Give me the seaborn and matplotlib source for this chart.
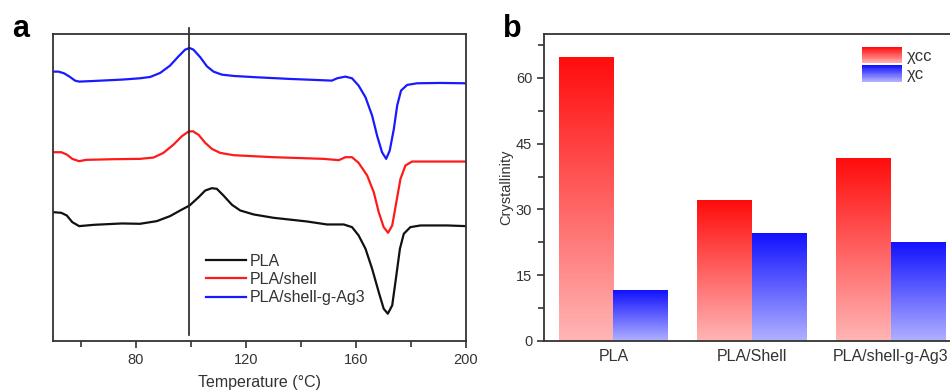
import matplotlib
matplotlib.use("Agg")
import matplotlib.pyplot as plt
import numpy as np
import pandas as pd
import seaborn as sns
from matplotlib.legend_handler import HandlerBase
from matplotlib.patches import Rectangle, Patch
from matplotlib.ticker import MultipleLocator

# ---- panel a: DSC curves (heat flow, arbitrary units, offset) ----
temp_pla = [50, 53, 55, 57, 59.5, 65, 75, 81.6, 87.7, 92.5, 96.2, 99.6, 102.9, 105.3, 107.7,
            109.5, 111.9, 115, 118, 122.9, 130.1, 142.2, 149.5, 155.6, 158.6, 161, 163.5,
            165.9, 168.3, 170.1, 171.6, 173.2, 174.7, 176, 177.4, 179.8, 183.5, 193.2, 200]
hf_pla = [387, 385, 377, 357, 345, 349, 353, 352, 360, 375, 392, 407, 432, 452, 459,
          457, 437, 409, 392, 380, 370, 359, 350, 350, 342, 317, 277,
          217, 147, 97, 82, 107, 197, 277, 322, 342, 347, 347, 345]

temp_shell = [50, 53, 55, 57, 59.5, 62, 72, 81.6, 86.5, 90.1, 93.8, 96.8, 99.2, 100.8, 102.9,
              105.3, 107.7, 110.7, 115.6, 130.1, 148.3, 153.8, 156.2, 158.6, 161, 164.1,
              166.5, 168.3, 170.1, 171.7, 173.2, 174.7, 176.2, 178, 180.4, 187.1, 200]
hf_shell = [567, 567, 560, 547, 540, 544, 546, 547, 551, 565, 590, 615, 629, 630, 619,
            595, 577, 565, 558, 552, 547, 543, 552, 552, 535, 497,
            447, 387, 342, 325, 347, 417, 487, 527, 539, 539, 539]

temp_ag3 = [50, 52, 54, 56, 58, 59.5, 65, 75, 81.6, 85.3, 88.9, 92.5, 95.6, 98, 99.6, 101,
            103.5, 105.9, 108.3, 111.3, 115.6, 124, 136.2, 148.3, 151.3, 153.2, 156.2, 158.6,
            161, 163.5, 165.9, 167.7, 169.5, 171, 172.3, 173.8, 175, 176.4, 178.6, 182.2,
            190.7, 200]
hf_ag3 = [809, 809, 804, 794, 782, 779, 781, 785, 789, 793, 805, 827, 855, 875, 880, 875,
          852, 825, 809, 800, 796, 792, 787, 783, 782, 789, 794, 789,
          767, 732, 677, 617, 567, 547, 572, 637, 707, 752, 769, 774,
          775, 774]

curve_labels = ["PLA", "PLA/shell", "PLA/shell-g-Ag3"]
curve_colors = ["#111111", "#ff1a1a", "#1a1aff"]
t_cc_line = 99.5

# ---- panel b: crystallinity ----
samples = ["PLA", "PLA/Shell", "PLA/shell-g-Ag3"]
chi_cc = [64.7, 32.1, 41.5]
chi_c = [11.6, 24.4, 22.4]

plt.rcParams["font.family"] = ["Liberation Sans", "DejaVu Sans"]
plt.rcParams["axes.linewidth"] = 1.3
plt.rcParams["axes.edgecolor"] = "#333333"

fig = plt.figure(figsize=(9.5, 3.9), dpi=100)
ax1 = fig.add_axes([53 / 950, 49 / 390, 413 / 950, 307 / 390])
ax2 = fig.add_axes([544 / 950, 49 / 390, 416 / 950, 307 / 390])

# Draw the DSC curves
for t, hf, lab, col in zip([temp_pla, temp_shell, temp_ag3], [hf_pla, hf_shell, hf_ag3],
                           curve_labels, curve_colors):
    sns.lineplot(x=t, y=hf, color=col, lw=1.6, label=lab, sort=False, ax=ax1,
                 solid_joinstyle="round")

ax1.axvline(t_cc_line, ymin=0.018, ymax=1.021, color="#222222", lw=1.2, clip_on=False)
ax1.set_xlim(50, 200)
ax1.set_ylim(0, 922)
ax1.set_yticks([])
ax1.xaxis.set_minor_locator(MultipleLocator(20))
ax1.set_xticks([80, 120, 160, 200])
ax1.tick_params(axis="x", which="major", length=5, width=1.2, labelsize=10.5, colors="#333333")
ax1.tick_params(axis="x", which="minor", length=4, width=1.2, colors="#333333")
ax1.set_xlabel("Temperature (°C)", fontsize=11.5, color="#333333", labelpad=6)
ax1.set_ylabel("")
ax1.legend(loc="upper left", bbox_to_anchor=(0.352, 0.31), frameon=False, borderpad=0,
           handlelength=2.5, handletextpad=0.2, labelspacing=0.2, fontsize=11.5,
           labelcolor="#333333")

# Draw the bars
df = pd.DataFrame({
    "sample": samples * 2,
    "kind": ["χcc"] * 3 + ["χc"] * 3,
    "value": chi_cc + chi_c,
})
sns.barplot(df, x="sample", y="value", hue="kind", hue_order=["χcc", "χc"],
            palette={"χcc": "red", "χc": "blue"}, width=0.79, linewidth=0,
            legend=False, ax=ax2)

grad = {
    "red": ((1.0, 0.71, 0.71), (1.0, 0.05, 0.05)),
    "blue": ((0.69, 0.69, 1.0), (0.07, 0.07, 1.0)),
}


def ramp(key, n=100):
    lo, hi = np.array(grad[key][0]), np.array(grad[key][1])
    f = np.linspace(0, 1, n)[:, None]
    return (lo + (hi - lo) * f)[:, None, :]


for p in list(ax2.patches):
    key = "red" if p.get_facecolor()[0] > 0.5 else "blue"
    x0, y0 = p.get_x(), p.get_y()
    w, h = p.get_width(), p.get_height()
    ax2.imshow(ramp(key), extent=[x0, x0 + w, y0, y0 + h], origin="lower",
               aspect="auto", zorder=2, interpolation="bilinear")
    p.set_visible(False)

ax2.set_xlim(-0.5, 2.5)
ax2.set_ylim(0, 70)
ax2.yaxis.set_major_locator(MultipleLocator(15))
ax2.yaxis.set_minor_locator(MultipleLocator(7.5))
ax2.tick_params(axis="y", which="major", length=5, width=1.2, labelsize=10.5, colors="#333333")
ax2.tick_params(axis="y", which="minor", length=4, width=1.2, colors="#333333")
ax2.tick_params(axis="x", length=0, labelsize=11.5, colors="#333333", pad=6)
ax2.set_xlabel("")
ax2.set_ylabel("Crystallinity", fontsize=10.5, color="#333333", labelpad=2)


class GradientHandler(HandlerBase):
    def create_artists(self, legend, orig_handle, xdescent, ydescent, width, height,
                       fontsize, trans):
        key = "red" if orig_handle.get_facecolor()[0] > 0.5 else "blue"
        cols = ramp(key, 20)[:, 0, :]
        n = len(cols)
        arts = []
        for i, c in enumerate(cols):
            r = Rectangle((-xdescent, -ydescent + height * i / n), width, height / n + 0.3,
                          facecolor=c, edgecolor="none", transform=trans)
            arts.append(r)
        return arts


handles = [Patch(facecolor="red"), Patch(facecolor="blue")]
ax2.legend(handles, ["χcc", "χc"], handler_map={Patch: GradientHandler()},
           loc="upper left", bbox_to_anchor=(0.745, 0.985), frameon=False, borderpad=0,
           handlelength=2.4, handleheight=1.15, handletextpad=0.25, labelspacing=0.08,
           fontsize=12, labelcolor="#333333")

fig.text(21 / 950, 1 - 29 / 390, "a", fontsize=22, fontweight="bold", ha="center", va="center")
fig.text(512 / 950, 1 - 29 / 390, "b", fontsize=22, fontweight="bold", ha="center", va="center")

fig.savefig("out.png", dpi=100)
